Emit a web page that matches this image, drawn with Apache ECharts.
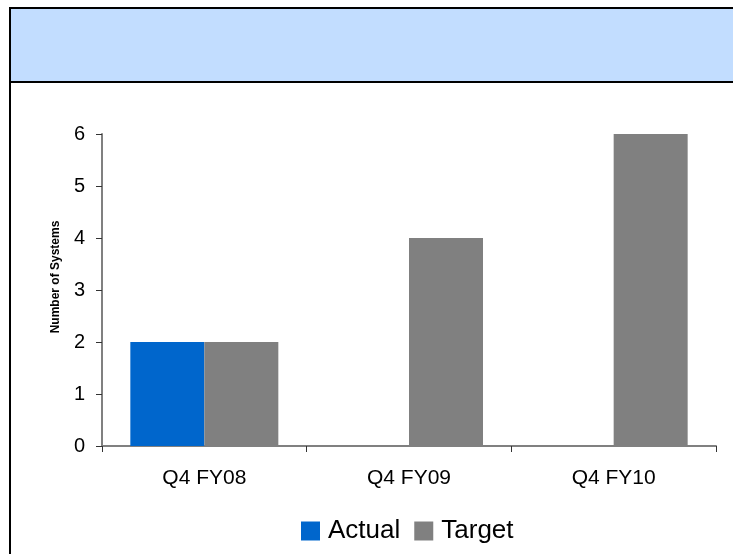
<!DOCTYPE html>
<html>
<head>
<meta charset="utf-8">
<script src="https://cdn.jsdelivr.net/npm/echarts@6/dist/echarts.min.js"></script>
<style>
html,body{margin:0;padding:0;background:#fff;}
#c{width:733px;height:554px;}
</style>
</head>
<body>
<div id="c"></div>
<script>
const categories = ['Q4 FY08', 'Q4 FY09', 'Q4 FY10'];
const actualValues = [2, null, null];
const targetValues = [2, 4, 6];
const yTicks = [0, 1, 2, 3, 4, 5, 6];

const chart = echarts.init(document.getElementById('c'), null, {renderer: 'canvas'});
const font = 'Arial, "Liberation Sans", sans-serif';
chart.setOption({
  animation: false,
  backgroundColor: '#ffffff',
  graphic: [
    {type: 'rect', shape: {x: 10, y: 8, width: 733, height: 74}, style: {fill: '#C2DDFF'}, z: 0},
    {type: 'rect', shape: {x: 9, y: 7, width: 730, height: 2}, style: {fill: '#000'}, z: 1},
    {type: 'rect', shape: {x: 9, y: 81, width: 730, height: 2}, style: {fill: '#000'}, z: 1},
    {type: 'rect', shape: {x: 9, y: 7, width: 2, height: 560}, style: {fill: '#000'}, z: 1}
  ],
  grid: {left: 102, right: 17, top: 134, bottom: 108, containLabel: false},
  legend: {
    data: ['Actual', 'Target'],
    top: 518,
    left: 301,
    padding: 0,
    itemWidth: 19,
    itemHeight: 19,
    itemGap: 14,
    icon: 'rect',
    textStyle: {fontFamily: font, fontSize: 26, color: '#000', padding: [0, 0, 0, 3]}
  },
  xAxis: {
    type: 'category',
    data: categories,
    axisLine: {lineStyle: {color: '#808080', width: 2}},
    axisTick: {show: true, length: 6, lineStyle: {color: '#333'}},
    axisLabel: {fontFamily: font, fontSize: 21, color: '#000', margin: 22}
  },
  yAxis: {
    type: 'value',
    min: 0,
    max: yTicks[yTicks.length - 1],
    interval: 1,
    name: 'Number of Systems',
    nameLocation: 'middle',
    nameGap: 40,
    nameTextStyle: {fontFamily: font, fontSize: 12, fontWeight: 'bold', color: '#000', padding: [0, 0, 0, 26]},
    splitLine: {show: false},
    axisLine: {show: true, lineStyle: {color: '#808080', width: 2}},
    axisTick: {show: true, length: 6, lineStyle: {color: '#333'}},
    axisLabel: {fontFamily: font, fontSize: 20, color: '#000', margin: 17}
  },
  series: [
    {name: 'Actual', type: 'bar', data: actualValues, barWidth: 74, barGap: '0%', itemStyle: {color: '#0066CC'}},
    {name: 'Target', type: 'bar', data: targetValues, barWidth: 74, barGap: '0%', itemStyle: {color: '#808080'}}
  ]
});
</script>
</body>
</html>
